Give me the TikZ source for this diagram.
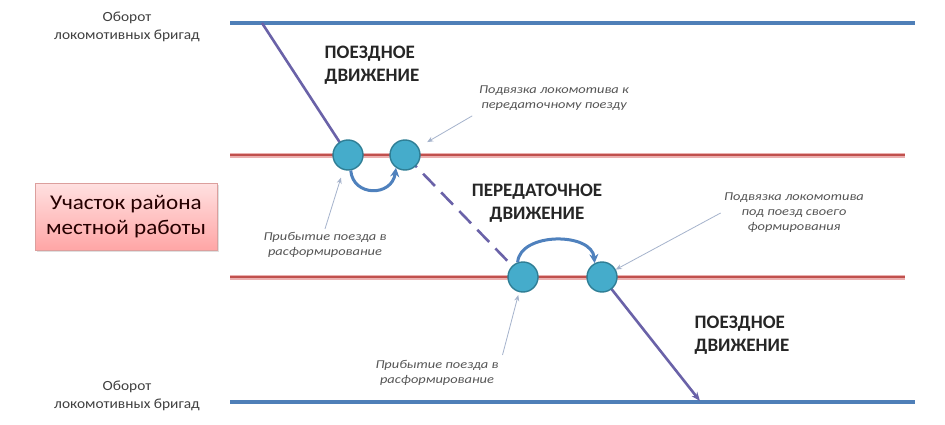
\documentclass[tikz,border=0pt]{standalone}
\usepackage{fontspec}
\setmainfont{Carlito}
\newfontfamily\notefont[FakeStretch=1.2]{Carlito}
\newfontfamily\widefont[FakeStretch=1.1]{Carlito}
\usetikzlibrary{arrows.meta,calc,shadows}
\definecolor{trackblue}{HTML}{4F7FB8}
\definecolor{trackred}{HTML}{C0504D}
\definecolor{trackpink}{HTML}{EBB0B0}
\definecolor{diag}{HTML}{6A62A8}
\definecolor{stopfill}{HTML}{45ACCB}
\definecolor{stopdraw}{HTML}{2F7E95}
\definecolor{arcblue}{HTML}{4F81BD}
\definecolor{pointer}{HTML}{A5B3CC}
\definecolor{labgray}{HTML}{555555}
\begin{document}
\begin{tikzpicture}[x=1pt,y=1pt,
  blueline/.style={line width=3.5pt,trackblue},
  redhalo/.style={line width=5pt,trackpink},
  redline/.style={line width=2.6pt,trackred},
  diagline/.style={line width=2.6pt,diag},
  stop/.style={circle,fill=stopfill,draw=stopdraw,line width=1.4pt,minimum size=30pt,inner sep=0pt},
  arcarrow/.style={line width=3pt,arcblue,-{Stealth[length=9pt,width=9pt]}},
  pointerarrow/.style={line width=0.8pt,pointer,-{Stealth[length=6pt,width=5pt]}},
  heading/.style={font=\bfseries\fontsize{19}{23}\selectfont,align=left,text=black!85},
  note/.style={font=\notefont\itshape\fontsize{12}{15}\selectfont,align=center,text=labgray},
  turnover/.style={font=\widefont\fontsize{14}{18.5}\selectfont,align=center,text=black!75},
  areabox/.style={draw=trackred!55,line width=0.6pt,top color=red!12,bottom color=red!35!white,
    minimum width=182pt,minimum height=67pt,align=center,drop shadow={opacity=0.25},
    font=\widefont\fontsize{21}{25}\selectfont,text=black!85!red}
]
\useasboundingbox (0,0) rectangle (945,424);
\fill[white] (0,0) rectangle (945,424);

% tracks
\coordinate (b1l) at (230,401); \coordinate (b1r) at (915,401);
\coordinate (r1l) at (230,269); \coordinate (r1r) at (905,269);
\coordinate (r2l) at (230,147); \coordinate (r2r) at (905,147);
\coordinate (b2l) at (230,22);  \coordinate (b2r) at (915,22);
\draw[blueline] (b1l) -- (b1r);
\draw[blueline] (b2l) -- (b2r);
\draw[redhalo] (r1l) -- (r1r);
\draw[redline] (r1l) -- (r1r);
\draw[redhalo] (r2l) -- (r2r);
\draw[redline] (r2l) -- (r2r);

% stops
\coordinate (s) at (262,401);
\coordinate (e) at (700,23);
\coordinate (p1) at (348,269);
\coordinate (p2) at (405,269);
\coordinate (p3) at (523,147);
\coordinate (p4) at (602,147);
\draw[diagline] (s) -- (p1);
\draw[diagline,dash pattern=on 17pt off 9pt] (p2) -- (p3);
\draw[diagline,-{Stealth[length=9pt,width=7pt]}] (p4) -- (e);
\node[stop] (c1) at (p1) {};
\node[stop] (c2) at (p2) {};
\node[stop] (c3) at (p3) {};
\node[stop] (c4) at (p4) {};

% transfer arcs
\draw[arcarrow] (c1.-80) .. controls (353,227) and (392,227) .. (c2.-125);
\draw[arcarrow] (c3.110) .. controls (520,192) and (592,192) .. (c4.118);

% labels
\node[turnover] (t1) at (127,397) {Оборот\\локомотивных бригад};
\node[turnover] (t2) at (127,28) {Оборот\\локомотивных бригад};
\node[areabox] (area) at (126,207.5) {Участок района\\местной работы};
\node[heading] (h1) at (372,359) {ПОЕЗДНОЕ\\ДВИЖЕНИЕ};
\node[heading,align=center] (h2) at (537,221) {ПЕРЕДАТОЧНОЕ\\ДВИЖЕНИЕ};
\node[heading] (h3) at (742,89) {ПОЕЗДНОЕ\\ДВИЖЕНИЕ};

\node[note] (l1) at (554,326) {Подвязка локомотива к\\передаточному поезду};
\node[note] (l2) at (794,211) {Подвязка локомотива\\под поезд своего\\формирования};
\node[note] (l3) at (325,179) {Прибытие поезда в\\расформирование};
\node[note] (l4) at (437,51) {Прибытие поезда в\\расформирование};

\draw[pointerarrow,shorten <=4pt,shorten >=10pt] (l1.south west) -- (c2);
\draw[pointerarrow] (l2.west) -- (c4);
\draw[pointerarrow,shorten >=8pt] (l3.north) -- (c1);
\draw[pointerarrow,shorten <=2pt,shorten >=3pt] (l4.north east) -- (c3);
\end{tikzpicture}
\end{document}
